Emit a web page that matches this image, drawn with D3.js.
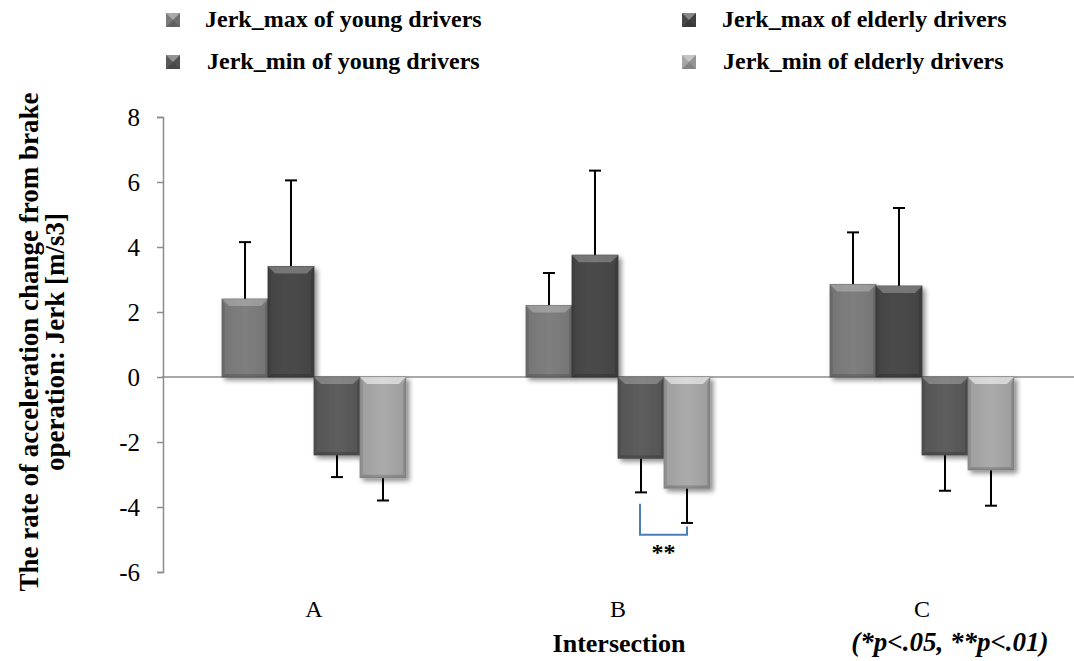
<!DOCTYPE html>
<html><head><meta charset="utf-8">
<script src="https://cdn.jsdelivr.net/npm/d3@7"></script>
<style>
html,body{margin:0;padding:0;background:#fff;}
svg{display:block;font-family:"Liberation Serif","Times New Roman",serif;}
</style></head>
<body>
<svg id="chart" width="1074" height="661"></svg>
<script>
const categories = ["A", "B", "C"];
const seriesNames = ["Jerk_max of young drivers", "Jerk_max of elderly drivers", "Jerk_min of young drivers", "Jerk_min of elderly drivers"];
const youngMax = [2.4, 2.2, 2.85];
const youngMaxErr = [1.75, 1.0, 1.6];
const elderlyMax = [3.4, 3.75, 2.8];
const elderlyMaxErr = [2.65, 2.6, 2.4];
const youngMin = [-2.4, -2.5, -2.4];
const youngMinErr = [0.68, 1.05, 1.1];
const elderlyMin = [-3.1, -3.42, -2.86];
const elderlyMinErr = [0.7, 1.07, 1.1];
const yTicks = [-6, -4, -2, 0, 2, 4, 6, 8];
const colors = ["#7b7b7b", "#484848", "#5a5a5a", "#a6a6a6"];

const values = [youngMax, elderlyMax, youngMin, elderlyMin];
const errors = [youngMaxErr, elderlyMaxErr, youngMinErr, elderlyMinErr];

const svg = d3.select("#chart");
const pLeft = 162, pRight = 1074, pTop = 117, pBottom = 572;

const x = d3.scaleBand().domain(categories).range([pLeft, pRight]);
const xs = d3.scaleBand().domain(d3.range(4)).range([0, 184]);
const y = d3.scaleLinear().domain([-6, 8]).range([pBottom, pTop]);

const defs = svg.append("defs");
const f = defs.append("filter").attr("id", "shadow").attr("x", "-20%").attr("y", "-20%").attr("width", "150%").attr("height", "150%");
f.append("feGaussianBlur").attr("in", "SourceAlpha").attr("stdDeviation", 2.5).attr("result", "b");
f.append("feOffset").attr("in", "b").attr("dx", 3).attr("dy", 3).attr("result", "o");
f.append("feComponentTransfer").attr("in", "o").attr("result", "o2")
  .append("feFuncA").attr("type", "linear").attr("slope", 0.45);
const fm = f.append("feMerge");
fm.append("feMergeNode").attr("in", "o2");
fm.append("feMergeNode").attr("in", "SourceGraphic");

colors.forEach((c, i) => {
  const g = defs.append("linearGradient").attr("id", "face" + i).attr("x1", 0).attr("x2", 1).attr("y1", 0).attr("y2", 0);
  g.append("stop").attr("offset", "0%").attr("stop-color", d3.color(c).darker(0.15));
  g.append("stop").attr("offset", "50%").attr("stop-color", d3.color(c).brighter(0.08));
  g.append("stop").attr("offset", "100%").attr("stop-color", d3.color(c).darker(0.15));
});

const errG = svg.append("g");
const zeroG = svg.append("g");
const barsG = svg.append("g");

const yAxis = d3.axisLeft(y).tickValues(yTicks).tickSize(6).tickPadding(17).tickFormat(d => String(d));
const ga = svg.append("g").attr("transform", `translate(${pLeft + 1},0)`).call(yAxis);
ga.select(".domain").attr("stroke", "#8c8c8c").attr("stroke-width", 1.5);
ga.selectAll(".tick line").attr("stroke", "#8c8c8c").attr("stroke-width", 1.5);
ga.selectAll(".tick text").attr("font-size", 25).attr("fill", "#000").attr("font-family", "Liberation Serif");

function bevelBar(g, x0, w, yv, c, i) {
  const y0 = y(0), y1 = y(yv);
  const yt = Math.min(y0, y1), h = Math.abs(y1 - y0);
  const bg = g.append("g").attr("filter", "url(#shadow)");
  bg.append("rect").attr("x", x0).attr("y", yt).attr("width", w).attr("height", h)
    .attr("fill", `url(#face${i})`).attr("stroke", d3.color(c).darker(0.6)).attr("stroke-width", 0.8);
  const b = 7, s = 3;
  bg.append("path").attr("d", `M${x0},${yt} L${x0 + w},${yt} L${x0 + w - b},${yt + b} L${x0 + b},${yt + b} Z`)
    .attr("fill", "#fff").attr("opacity", i === 3 ? 0.55 : 0.25);
  bg.append("path").attr("d", `M${x0},${yt} L${x0 + s},${yt + b} L${x0 + s},${yt + h - s} L${x0},${yt + h} Z`)
    .attr("fill", "#000").attr("opacity", 0.08);
  bg.append("path").attr("d", `M${x0 + w},${yt} L${x0 + w - s},${yt + b} L${x0 + w - s},${yt + h - s} L${x0 + w},${yt + h} Z`)
    .attr("fill", "#000").attr("opacity", 0.12);
  bg.append("path").attr("d", `M${x0},${yt + h} L${x0 + s},${yt + h - s} L${x0 + w - s},${yt + h - s} L${x0 + w},${yt + h} Z`)
    .attr("fill", "#000").attr("opacity", 0.15);
}

categories.forEach((cat, ci) => {
  const cx = x(cat) + (x.bandwidth() - 184) / 2;
  values.forEach((arr, si) => {
    const v = arr[ci];
    const x0 = cx + xs(si);
    const w = xs.bandwidth();
    const e = errors[si][ci];
    const ye = v >= 0 ? v + e : v - e;
    const mx = x0 + w / 2;
    errG.append("line").attr("x1", mx).attr("x2", mx).attr("y1", y(v)).attr("y2", y(ye))
      .attr("stroke", "#000").attr("stroke-width", 2);
    errG.append("line").attr("x1", mx - 6).attr("x2", mx + 6).attr("y1", y(ye)).attr("y2", y(ye))
      .attr("stroke", "#000").attr("stroke-width", 2);
    bevelBar(barsG, x0, w, v, colors[si], si);
  });
});

zeroG.append("line").attr("x1", pLeft).attr("x2", pRight).attr("y1", y(0)).attr("y2", y(0))
  .attr("stroke", "#8c8c8c").attr("stroke-width", 1.5);

categories.forEach(cat => {
  svg.append("text").attr("x", x(cat) + x.bandwidth() / 2).attr("y", 617)
    .attr("text-anchor", "middle").attr("font-size", 24).text(cat);
});

svg.append("text").attr("x", 619).attr("y", 652).attr("text-anchor", "middle")
  .attr("font-size", 26).attr("font-weight", "bold").text("Intersection");
svg.append("text").attr("x", 950).attr("y", 651).attr("text-anchor", "middle")
  .attr("font-size", 27).attr("font-weight", "bold").attr("font-style", "italic").text("(*p<.05, **p<.01)");

const ytl = svg.append("text").attr("transform", "translate(0,342) rotate(-90)")
  .attr("text-anchor", "middle").attr("font-size", 27).attr("font-weight", "bold");
ytl.append("tspan").attr("x", 0).attr("y", 38).text("The rate of acceleration change from brake");
ytl.append("tspan").attr("x", 0).attr("y", 64).text("operation: Jerk [m/s3]");

const bx = x("B") + (x.bandwidth() - 184) / 2;
const sx1 = bx + xs(2) + xs.bandwidth() / 2 - 1, sx2 = bx + xs(3) + xs.bandwidth() / 2;
svg.append("path").attr("d", `M${sx1},${y(-3.9)} L${sx1},${y(-4.85)} L${sx2},${y(-4.85)} L${sx2},${y(-4.6)}`)
  .attr("fill", "none").attr("stroke", "#4a7ebb").attr("stroke-width", 2);
svg.append("text").attr("x", (sx1 + sx2) / 2).attr("y", 560).attr("text-anchor", "middle")
  .attr("font-size", 24).attr("font-weight", "bold").text("**");

const legendPos = [
  {mx: 166, my: 13, tx: 205, ty: 27},
  {mx: 682, my: 13, tx: 722, ty: 27},
  {mx: 166, my: 55, tx: 207, ty: 69},
  {mx: 682, my: 55, tx: 723, ty: 69}
];
seriesNames.forEach((name, i) => {
  const p = legendPos[i];
  const s = 14, b = 5;
  const lg = svg.append("g");
  const cxm = p.mx + s / 2, cym = p.my + s / 2;
  lg.append("rect").attr("x", p.mx).attr("y", p.my).attr("width", s).attr("height", s).attr("fill", colors[i]);
  lg.append("path").attr("d", `M${p.mx},${p.my} L${p.mx + s},${p.my} L${cxm},${cym} Z`)
    .attr("fill", "#fff").attr("opacity", 0.35);
  lg.append("path").attr("d", `M${p.mx},${p.my + s} L${p.mx + s},${p.my + s} L${cxm},${cym} Z`)
    .attr("fill", "#000").attr("opacity", 0.2);
  lg.append("path").attr("d", `M${p.mx + s},${p.my} L${p.mx + s},${p.my + s} L${cxm},${cym} Z`)
    .attr("fill", "#000").attr("opacity", 0.1);
  lg.append("text").attr("x", p.tx).attr("y", p.ty).attr("font-size", 24).attr("font-weight", "bold").text(name);
});
</script>
</body></html>
